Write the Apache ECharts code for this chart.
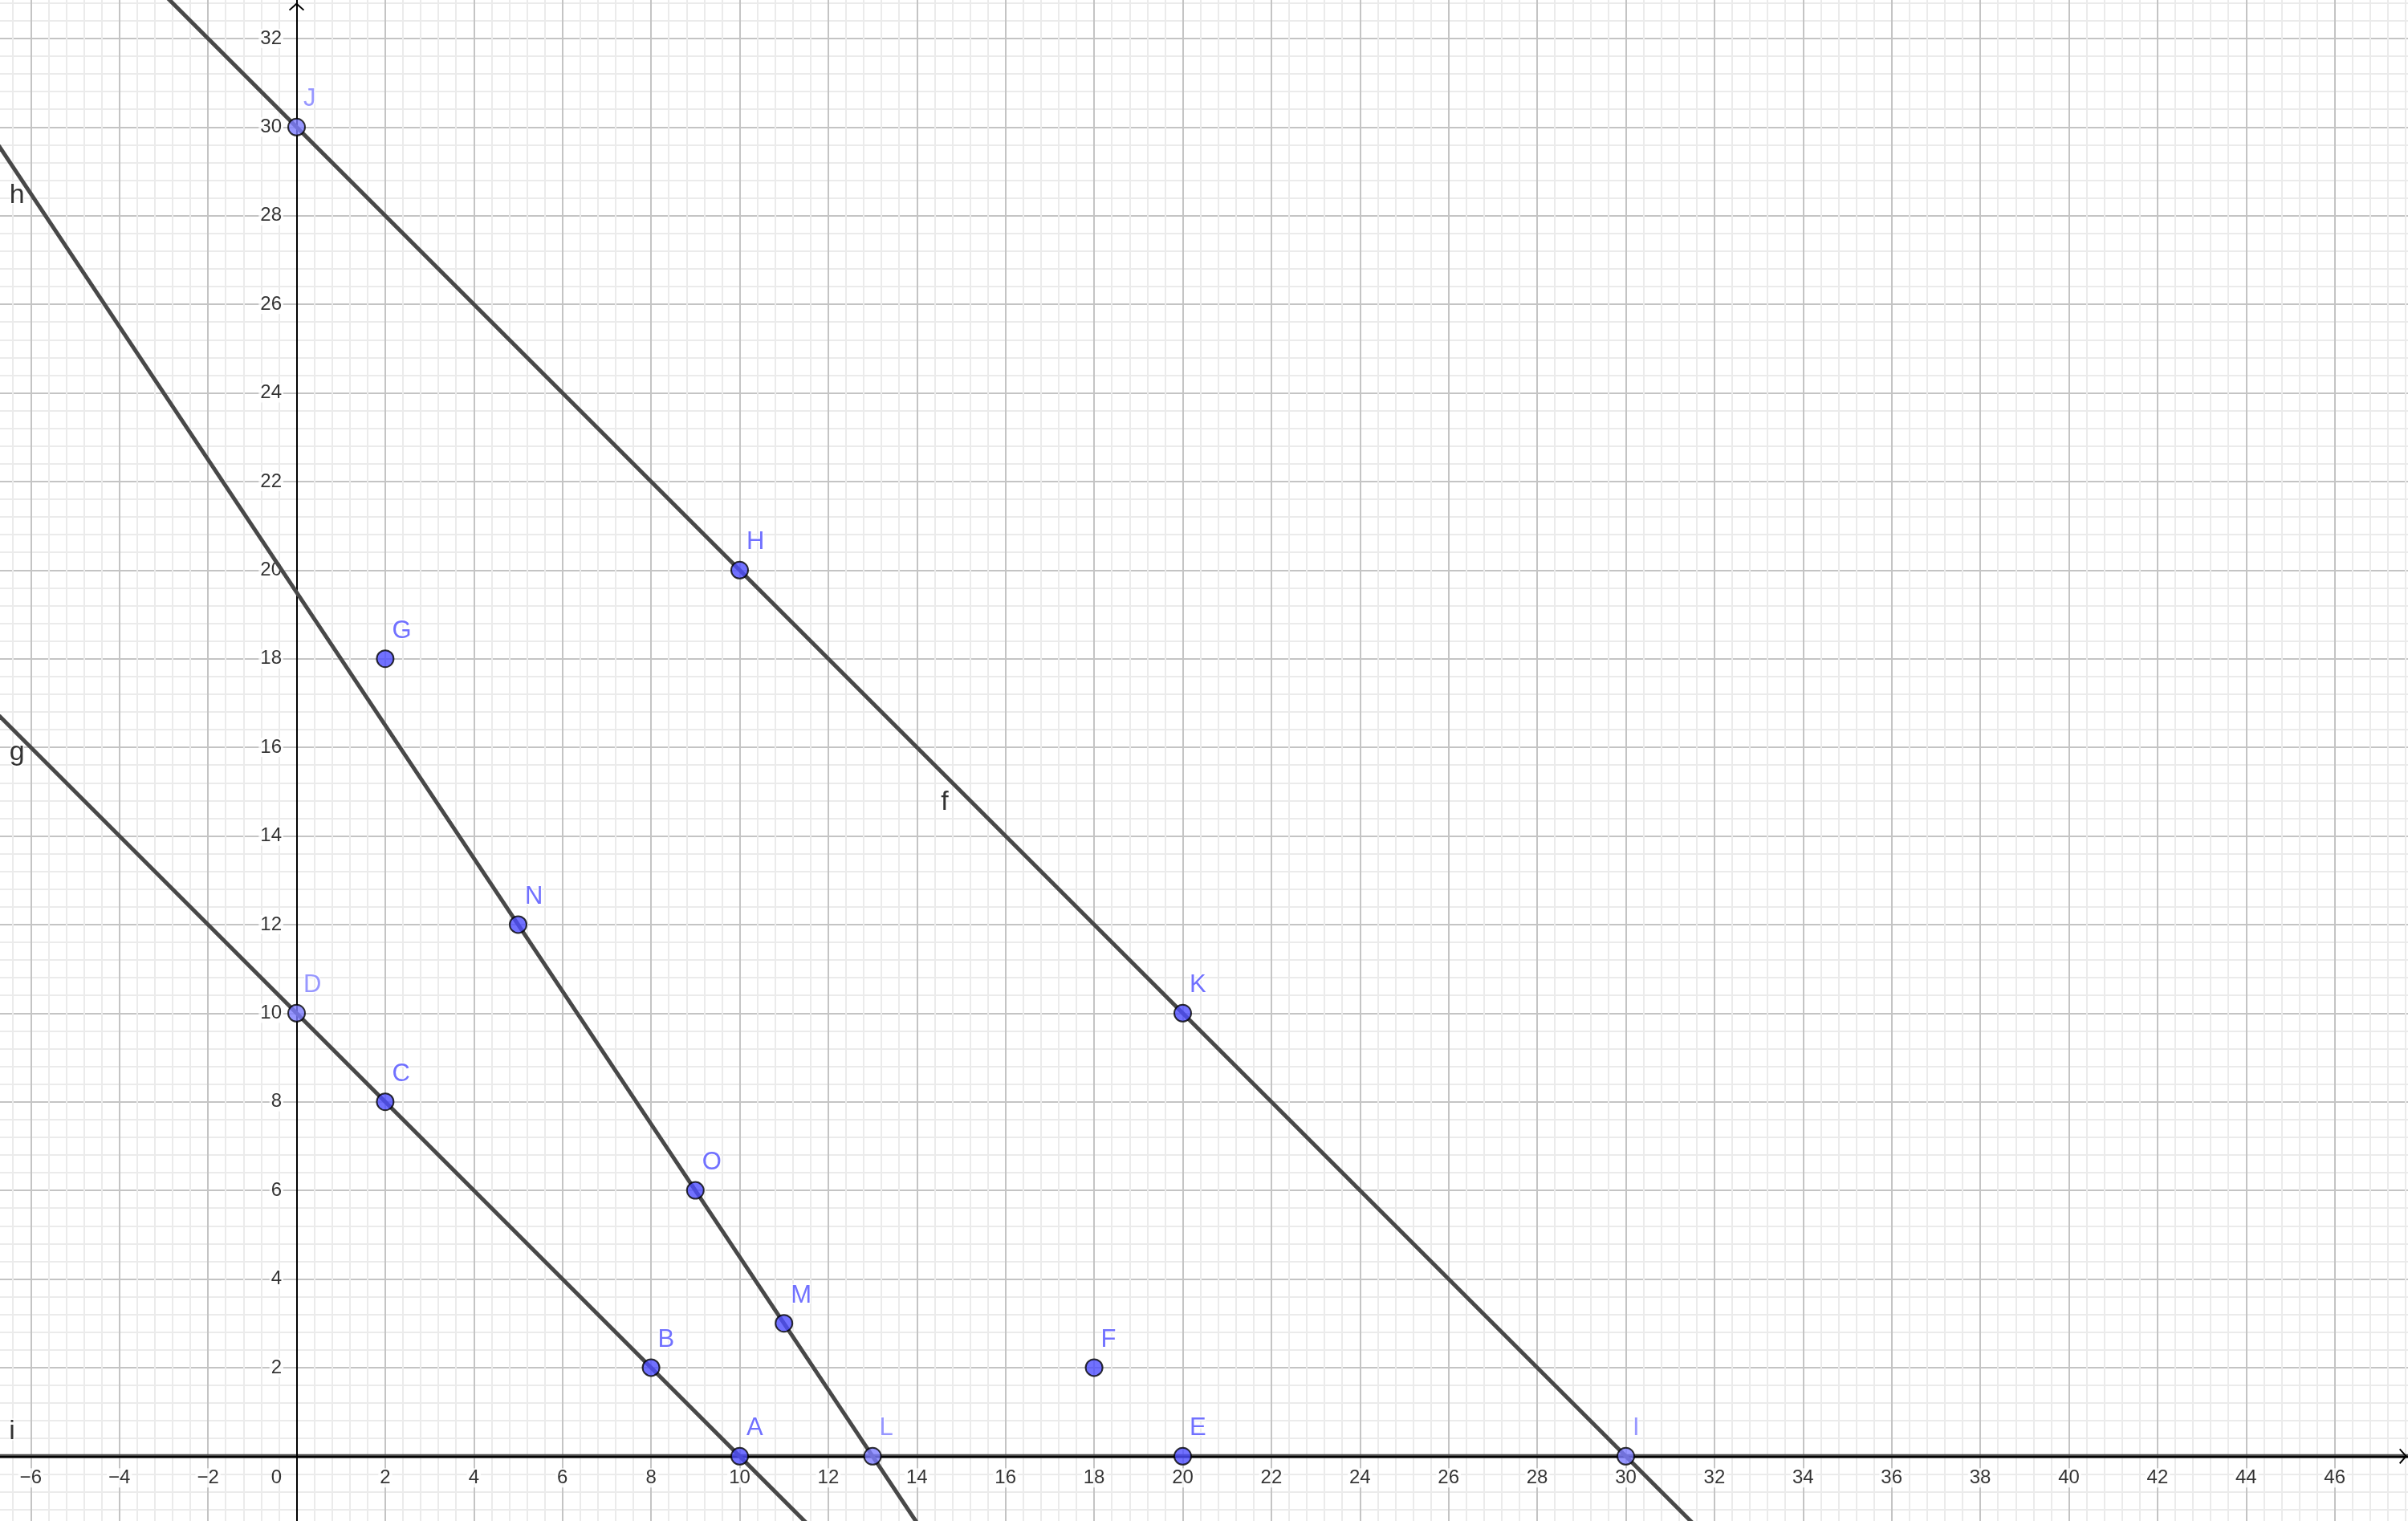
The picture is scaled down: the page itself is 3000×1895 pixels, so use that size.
<!DOCTYPE html>
<html><head><meta charset="utf-8">
<script src="https://cdn.jsdelivr.net/npm/echarts@6/dist/echarts.min.js"></script>
<style>html,body{margin:0;padding:0;background:#fff;overflow:hidden}#c{width:3000px;height:1895px}</style>
</head><body><div id="c"></div>
<script>
// ---- data ----
const pointNames = ['A','B','C','D','E','F','G','H','I','J','K','L','M','N','O'];
const pointX     = [10, 8, 2, 0, 20, 18, 2, 10, 30, 0, 20, 13, 11, 5, 9];
const pointY     = [ 0, 2, 8, 10, 0,  2, 18, 20, 0, 30, 10, 0, 3, 12, 6];
const dependentPoints = ['D','I','J','L'];
const lineNames   = ['f','g','h','i'];
const lineThrough = [['J','I'], ['D','A'], ['N','L'], ['A','E']];
const lineLabelX  = [14.63, -6.31, -6.31, -6.42];
const lineLabelY  = [14.75, 15.88, 28.46, 0.56];
const xTickValues = [-6,-4,-2,0,2,4,6,8,10,12,14,16,18,20,22,24,26,28,30,32,34,36,38,40,42,44,46];
const yTickValues = [2,4,6,8,10,12,14,16,18,20,22,24,26,28,30,32];
const tickStep = 2;
const minorDivisions = 5;

// ---- view ----
const PX = 55.2, OX = 369.5, OY = 1814.3;
const X_MIN = -8, X_MAX = 48, Y_MIN = -2, Y_MAX = 34;
const FONT = 'Liberation Sans, Arial, sans-serif';
const DARK = '#4d4dff', LIGHT = '#7d7dff', LINE = '#484848';

const idx = n => pointNames.indexOf(n);
const fmt = v => v < 0 ? '\u2212' + Math.abs(v) : String(v);

const lineSeries = lineNames.map((name, k) => {
  const a = idx(lineThrough[k][0]), b = idx(lineThrough[k][1]);
  const x1 = pointX[a], y1 = pointY[a], x2 = pointX[b], y2 = pointY[b];
  const m = (y2 - y1) / (x2 - x1);
  const data = [[X_MIN, y1 + m * (X_MIN - x1)], [X_MAX, y1 + m * (X_MAX - x1)]];
  const onAxis = (y1 === 0 && y2 === 0);
  return {
    type: 'line', name, data, symbol: 'none', clip: true, z: onAxis ? 1 : 3, silent: true,
    lineStyle: { color: LINE, width: 5 }, animation: false
  };
});

const pointData = pointNames.map((n, i) => {
  const dep = dependentPoints.includes(n);
  return {
    name: n, value: [pointX[i], pointY[i]],
    itemStyle: { color: dep ? LIGHT : DARK, borderColor: '#000', borderWidth: 2 },
    label: { color: dep ? LIGHT : DARK }
  };
});

const chevron = 'path://M10,0 L20,9 L18.6,10.4 L10,2.8 L1.4,10.4 L0,9 Z';

const gridAxisCommon = (min, max) => ({
  type: 'value', min, max, interval: tickStep, z: 0,
  axisLine: { show: false },
  axisTick: { show: false }, axisLabel: { show: false },
  minorTick: { show: false, splitNumber: minorDivisions },
  splitLine: { show: true, lineStyle: { color: '#c4c4c4', width: 2 } },
  minorSplitLine: { show: true, lineStyle: { color: '#ebebeb', width: 2 } }
});

const lineAxisCommon = (min, max, offset) => ({
  type: 'value', min, max, interval: tickStep, z: 2,
  axisLine: { show: true, onZero: true, onZeroAxisIndex: 0,
    symbol: ['none', chevron], symbolSize: [20, 10], symbolOffset: [0, offset],
    lineStyle: { color: '#000', width: 2 } },
  axisTick: { show: false }, axisLabel: { show: false },
  splitLine: { show: false }
});

const tickLabel = (position, align, bg) => ({
  show: true, position, align, verticalAlign: 'middle',
  fontSize: 24, fontFamily: FONT, color: '#000',
  backgroundColor: bg, padding: [0, 2],
  formatter: p => fmt(p.value[p.value[0] === 0 && p.value[1] !== 0 ? 1 : 0])
});

const tickSeries = (name, data, label) => ({
  type: 'scatter', name, z: 2.5, silent: true, symbolSize: 0,
  data, label, labelLayout: { hideOverlap: false }
});

const option = {
  backgroundColor: '#fff',
  animation: false,
  grid: {
    left: OX + X_MIN * PX, top: OY - Y_MAX * PX,
    width: (X_MAX - X_MIN) * PX, height: (Y_MAX - Y_MIN) * PX,
    containLabel: false, outerBoundsMode: 'none'
  },
  xAxis: [
    gridAxisCommon(X_MIN, X_MAX),
    lineAxisCommon(X_MIN, X_MAX, -(OX + X_MAX * PX - 2994))
  ],
  yAxis: [
    gridAxisCommon(Y_MIN, Y_MAX),
    lineAxisCommon(Y_MIN, Y_MAX, -((Y_MAX * PX - OY) + 8.3))
  ],
  series: lineSeries.concat([
    tickSeries('xTicks', xTickValues.filter(v => v !== 0).map(v => [v, 0]),
      tickLabel([0, 27], 'center', '#fff')),
    tickSeries('xZero', xTickValues.filter(v => v === 0).map(v => [v, 0]),
      tickLabel([-25, 27], 'center', 'transparent')),
    tickSeries('yTicks', yTickValues.map(v => [0, v]),
      tickLabel([-16.5, 0], 'right', '#fff')),
    {
      type: 'scatter', name: 'lineLabels', z: 20, silent: true,
      symbolSize: 0,
      data: lineNames.map((n, k) => ({ name: n, value: [lineLabelX[k], lineLabelY[k]] })),
      label: { show: true, position: [0, 0], formatter: p => p.name, fontSize: 34,
        fontFamily: FONT, color: '#000', align: 'center', verticalAlign: 'middle',
        textBorderColor: '#fff', textBorderWidth: 3 }
    },
    {
      type: 'scatter', name: 'points', z: 30, silent: true,
      symbol: 'circle', symbolSize: 21,
      data: pointData,
      label: { show: true, position: [20, -23], formatter: p => p.name, fontSize: 31,
        fontFamily: FONT, align: 'left', verticalAlign: 'middle',
        textBorderColor: '#fff', textBorderWidth: 3 }
    }
  ])
};

const chart = echarts.init(document.getElementById('c'), null, { renderer: 'canvas' });
chart.setOption(option);
</script>
</body></html>
